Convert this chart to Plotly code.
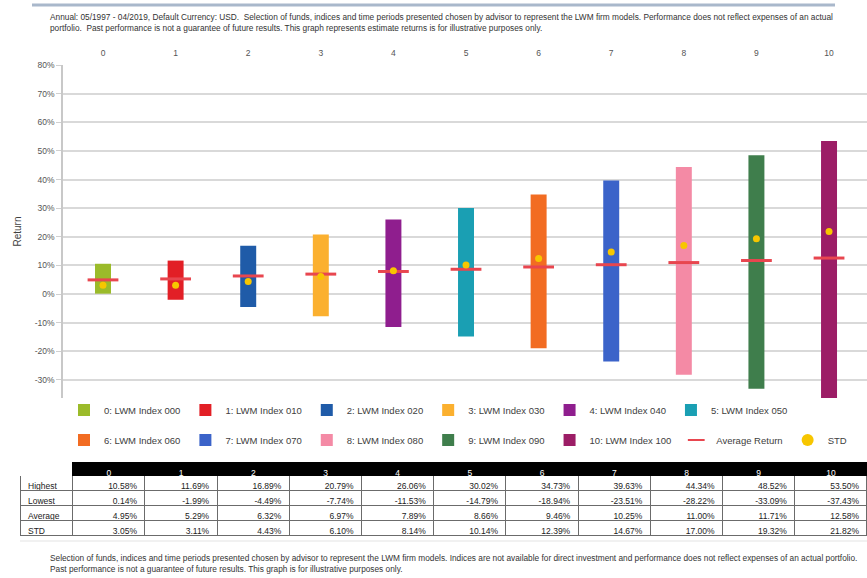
import plotly.graph_objects as go

# ---- data -------------------------------------------------------------
categories = ["0", "1", "2", "3", "4", "5", "6", "7", "8", "9", "10"]
fund_names = [
    "0: LWM Index 000", "1: LWM Index 010", "2: LWM Index 020", "3: LWM Index 030",
    "4: LWM Index 040", "5: LWM Index 050", "6: LWM Index 060", "7: LWM Index 070",
    "8: LWM Index 080", "9: LWM Index 090", "10: LWM Index 100",
]
highest = [10.58, 11.69, 16.89, 20.79, 26.06, 30.02, 34.73, 39.63, 44.34, 48.52, 53.50]
lowest = [0.14, -1.99, -4.49, -7.74, -11.53, -14.79, -18.94, -23.51, -28.22, -33.09, -37.43]
average = [4.95, 5.29, 6.32, 6.97, 7.89, 8.66, 9.46, 10.25, 11.00, 11.71, 12.58]
std = [3.05, 3.11, 4.43, 6.10, 8.14, 10.14, 12.39, 14.67, 17.00, 19.32, 21.82]
row_labels = ["Highest", "Lowest", "Average", "STD"]
y_ticks = [-30, -20, -10, 0, 10, 20, 30, 40, 50, 60, 70, 80]

# ---- styling ----------------------------------------------------------
bar_colors = [
    "#9bbb2a", "#e21f26", "#1f5ba8", "#fbb02f", "#8f1e8e", "#1a9fb3",
    "#f26c22", "#3b63c9", "#f48aa5", "#3f7e4c", "#9c1d66",
]
avg_color = "#e8464f"
std_color = "#f7c600"
FONT = "Liberation Sans, Arial, sans-serif"

W, H = 867, 578
M_L, M_R, M_T, M_B = 20, 0, 65, 38
PW, PH = W - M_L - M_R, H - M_T - M_B


def px_x(x):
    """Page pixel x -> paper fraction."""
    return (x - M_L) / PW


def px_y(y):
    """Page pixel y (from top) -> paper fraction."""
    return (H - M_B - y) / PH


fig = go.Figure()

# floating range bars: lowest -> highest
for i, name in enumerate(fund_names):
    fig.add_trace(go.Bar(
        x=[i], y=[highest[i] - lowest[i]], base=[lowest[i]],
        name=name, width=0.22, marker=dict(color=bar_colors[i], line_width=0),
        legend="legend" if i < 6 else "legend2",
    ))

fig.add_trace(go.Scatter(
    x=list(range(len(categories))), y=average, mode="markers", name="Average Return",
    marker=dict(symbol="line-ew", size=22, line=dict(color=avg_color, width=3)),
    legend="legend2",
))
fig.add_trace(go.Scatter(
    x=list(range(len(categories))), y=std, mode="markers", name="STD",
    marker=dict(symbol="circle", size=7, color=std_color),
    legend="legend2",
))

# statistics table under the chart
col_vals = [row_labels] + [
    [f"{highest[i]:.2f}%", f"{lowest[i]:.2f}%", f"{average[i]:.2f}%", f"{std[i]:.2f}%"]
    for i in range(len(categories))
]
fig.add_trace(go.Table(
    domain=dict(x=[0, 1], y=[0, px_y(462)]),
    columnwidth=[53] + [72.5] * len(categories),
    header=dict(
        values=[""] + categories,
        fill_color=["white"] + ["black"] * len(categories),
        line=dict(color=["white"] + ["black"] * len(categories), width=1),
        font=dict(family=FONT, size=8.5, color="white"),
        align="center", height=13,
    ),
    cells=dict(
        values=col_vals,
        fill_color="white",
        line=dict(color="#6b6b6b", width=1),
        font=dict(family=FONT, size=8.5, color="#222222"),
        align=["left"] + ["right"] * len(categories),
        height=15,
    ),
))

fig.update_layout(
    width=W, height=H,
    margin=dict(l=M_L, r=M_R, t=M_T, b=M_B, autoexpand=False),
    paper_bgcolor="white", plot_bgcolor="white",
    font=dict(family=FONT, color="#404040"),
    barmode="overlay",
    showlegend=True,
    xaxis=dict(
        domain=[px_x(63), 1],
        range=[-0.551, 10.523],
        side="top",
        tickmode="array", tickvals=list(range(len(categories))), ticktext=categories,
        tickfont=dict(size=8.5, color="#555555"),
        ticks="outside", ticklen=5, tickcolor="rgba(0,0,0,0)",
        showgrid=False, zeroline=False, showline=False,
        fixedrange=True,
    ),
    yaxis=dict(
        domain=[px_y(398), 1],
        range=[-36.3, 80],
        tickmode="array", tickvals=y_ticks, ticktext=[f"{v}%" for v in y_ticks],
        tickfont=dict(size=8.5, color="#555555"),
        ticks="outside", ticklen=5, tickcolor="#d0d0d0",
        showgrid=True, gridcolor="#d9d9d9", gridwidth=1.5,
        zeroline=True, zerolinecolor="#d9d9d9", zerolinewidth=1.5,
        showline=True, linecolor="#c8c8c8", linewidth=1.5,
        title=dict(text="Return", font=dict(size=10, color="#404040"), standoff=11),
        fixedrange=True,
    ),
    legend=dict(
        orientation="h", x=px_x(64), y=px_y(410), xanchor="left", yanchor="middle",
        font=dict(size=9.5, color="#404040"), bgcolor="rgba(0,0,0,0)",
        itemsizing="constant", traceorder="normal",
    ),
    legend2=dict(
        orientation="h", x=px_x(64), y=px_y(440), xanchor="left", yanchor="middle",
        font=dict(size=9.5, color="#404040"), bgcolor="rgba(0,0,0,0)",
        itemsizing="constant", traceorder="normal",
    ),
)

# header rule and disclaimers
fig.add_shape(type="line", xref="paper", yref="paper",
              x0=px_x(32), x1=px_x(835), y0=px_y(5), y1=px_y(5),
              line=dict(color="#a9b8cb", width=3))
fig.add_shape(type="line", xref="paper", yref="paper",
              x0=0, x1=1, y0=px_y(541), y1=px_y(541),
              line=dict(color="#e3e3e3", width=1))

header_text = (
    "Annual: 05/1997 - 04/2019, Default Currency: USD.  Selection of funds, indices and time periods "
    "presented chosen by advisor to represent the LWM firm models. Performance does not reflect expenses of an actual<br>"
    "portfolio.  Past performance is not a guarantee of future results. This graph represents estimate returns "
    "is for illustrative purposes only."
)
footer_text = (
    "Selection of funds, indices and time periods presented chosen by advisor to represent the LWM firm models. "
    "Indices are not available for direct investment and performance does not reflect expenses of an actual portfolio.<br>"
    "Past performance is not a guarantee of future results. This graph is for illustrative purposes only."
)
fig.add_annotation(xref="paper", yref="paper", x=px_x(48), y=px_y(10),
                   xanchor="left", yanchor="top", align="left", showarrow=False,
                   text=header_text, font=dict(size=8.3, color="#333333"))
fig.add_annotation(xref="paper", yref="paper", x=px_x(48), y=px_y(551),
                   xanchor="left", yanchor="top", align="left", showarrow=False,
                   text=footer_text, font=dict(size=8.3, color="#333333"))

fig.write_html("out.html")
